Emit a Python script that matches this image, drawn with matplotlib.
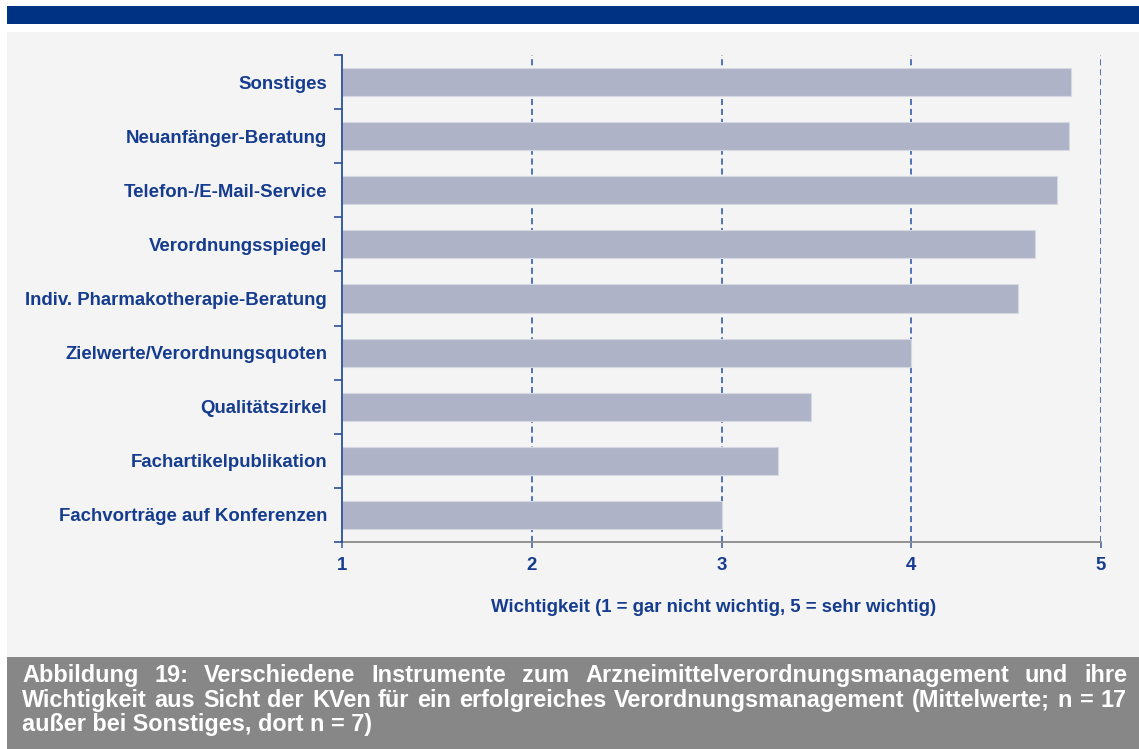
import numpy as np
import matplotlib
matplotlib.use('Agg')
import matplotlib.pyplot as plt
from matplotlib.patches import Rectangle

plt.rcParams['font.family'] = ['Liberation Sans', 'DejaVu Sans']

# data
labels = ['Sonstiges', 'Neuanfänger-Beratung', 'Telefon-/E-Mail-Service',
          'Verordnungsspiegel', 'Indiv. Pharmakotherapie-Beratung',
          'Zielwerte/Verordnungsquoten', 'Qualitätszirkel',
          'Fachartikelpublikation', 'Fachvorträge auf Konferenzen']
values = [4.84, 4.83, 4.77, 4.65, 4.56, 4.00, 3.47, 3.30, 3.00]
xticks = [1, 2, 3, 4, 5]
xlabel = 'Wichtigkeit (1 = gar nicht wichtig, 5 = sehr wichtig)'
caption = ['Abbildung 19: Verschiedene Instrumente zum Arzneimittelverordnungsmanagement und ihre',
           'Wichtigkeit aus Sicht der KVen für ein erfolgreiches Verordnungsmanagement (Mittelwerte; n = 17',
           'außer bei Sonstiges, dort n = 7)']

W, H = 1139, 749
BLUE = '#153c8e'
fig = plt.figure(figsize=(W / 100, H / 100), dpi=100)
fig.patch.set_facecolor('white')


def box(x0, y0, x1, y1, color):
    fig.add_artist(Rectangle((x0 / W, 1 - y1 / H), (x1 - x0) / W, (y1 - y0) / H,
                             transform=fig.transFigure, facecolor=color,
                             edgecolor='none', zorder=0))


box(7, 6, W, 24, '#003283')
box(7, 32, W, 657, '#f4f4f4')
box(7, 657, W, H, '#878787')

ax = fig.add_axes([342 / W, 1 - 542 / H, (1101 - 342) / W, (542 - 55) / H])
ax.set_facecolor('none')

n = len(labels)
ypos = np.arange(n)[::-1]
ax.set_xlim(1, 5)
ax.set_ylim(-0.5, n - 0.5)

for gx in xticks[1:]:
    ax.axvline(gx, color='#2350a2', lw=1.1, linestyle=(0, (4, 2.5)), zorder=1)

ax.barh(ypos, np.array(values) - 1, left=1, height=0.52, color='#aeb3c7',
        edgecolor='#d6d9e3', linewidth=0.8, zorder=2)

for s in ['top', 'right']:
    ax.spines[s].set_visible(False)
ax.spines['left'].set_color('#2a4f9c')
ax.spines['left'].set_linewidth(1.3)
ax.spines['left'].set_zorder(3)
ax.spines['bottom'].set_color('#8a8a8a')
ax.spines['bottom'].set_linewidth(1.3)

ax.set_yticks(ypos)
ax.set_yticklabels(labels, fontsize=13.4, fontweight='bold', color=BLUE)
ax.set_yticks(np.arange(-0.5, n), minor=True)
ax.tick_params(axis='y', which='major', length=0, pad=10.8)
ax.tick_params(axis='y', which='minor', length=6, width=1.2, color='#2a4f9c', direction='out')

ax.set_xticks(xticks)
ax.set_xticklabels([str(t) for t in xticks], fontsize=13.4, fontweight='bold', color=BLUE)
ax.tick_params(axis='x', length=4, width=1.1, color='#3a5a9a', pad=7)

fig.text(714 / W, 1 - 607 / H, xlabel, fontsize=13.4, fontweight='bold', color=BLUE,
         ha='center', va='center')

# justified caption
renderer = fig.canvas.get_renderer()
left_px, right_px = 22, 1127
base_y = [682, 707, 731]
cap_fs = 16.9
for i, line in enumerate(caption):
    y = 1 - base_y[i] / H
    if i == len(caption) - 1:
        fig.text(left_px / W, y, line, fontsize=cap_fs, fontweight='bold',
                 color='white', va='baseline', ha='left')
        continue
    words = line.split(' ')
    arts = [fig.text(0, y, w, fontsize=cap_fs, fontweight='bold', color='white',
                     va='baseline', ha='left') for w in words]
    widths = [a.get_window_extent(renderer).width for a in arts]
    gap = (right_px - left_px - sum(widths)) / (len(words) - 1)
    x = left_px
    for a, wd in zip(arts, widths):
        a.set_x(round(x) / W)
        x += wd + gap

fig.savefig('out.png', dpi=100, facecolor=fig.get_facecolor())
